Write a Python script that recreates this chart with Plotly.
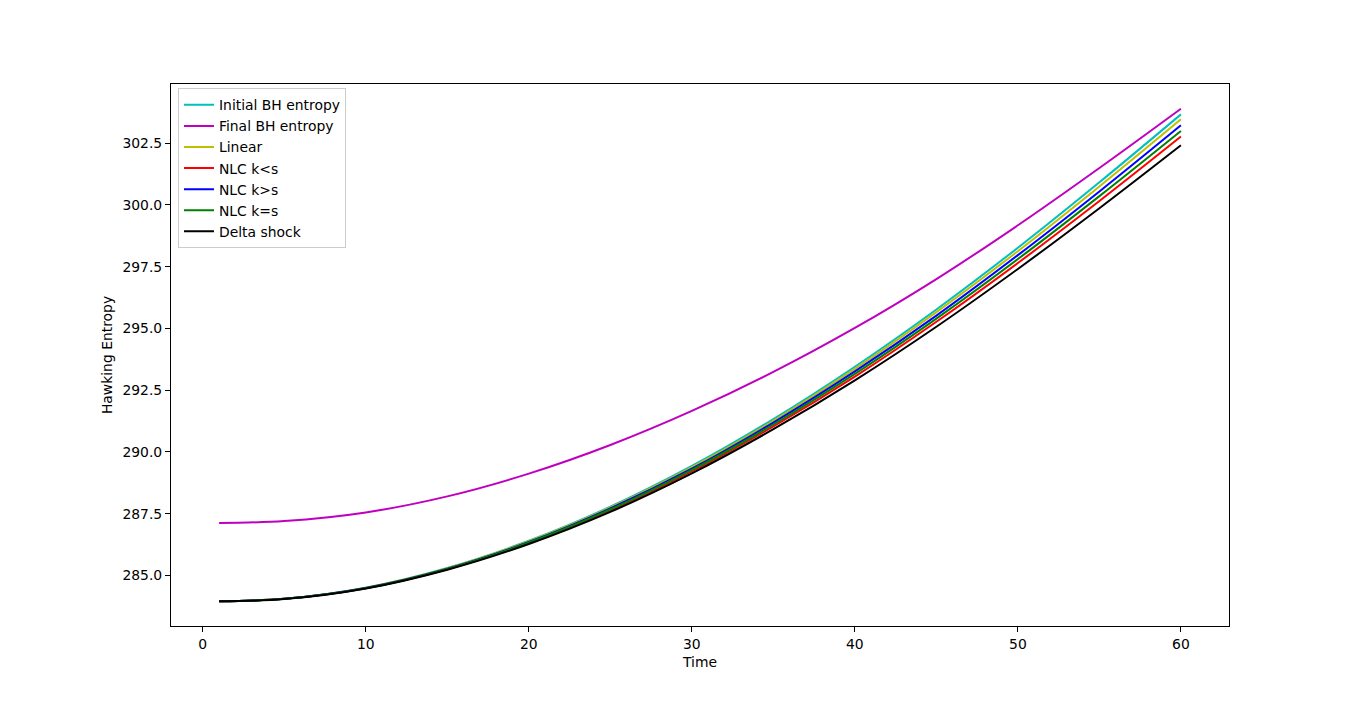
import plotly.graph_objects as go

time = [1, 5, 10, 15, 20, 25, 30, 35, 40, 45, 50, 55, 60]

initial_bh = [283.95, 284.05, 284.50, 285.30, 286.40, 287.78, 289.43, 291.33, 293.45, 295.77, 298.27, 300.92, 303.67]
final_bh = [287.12, 287.20, 287.55, 288.20, 289.12, 290.28, 291.66, 293.24, 295.02, 297.00, 299.18, 301.50, 303.90]
linear = [283.95, 284.05, 284.50, 285.29, 286.38, 287.75, 289.38, 291.26, 293.36, 295.66, 298.13, 300.75, 303.47]
nlc_k_lt_s = [283.95, 284.05, 284.48, 285.25, 286.31, 287.63, 289.21, 291.03, 293.05, 295.27, 297.65, 300.16, 302.77]
nlc_k_gt_s = [283.95, 284.05, 284.49, 285.27, 286.35, 287.71, 289.32, 291.19, 293.26, 295.52, 297.97, 300.55, 303.23]
nlc_k_eq_s = [283.95, 284.05, 284.48, 285.26, 286.33, 287.67, 289.27, 291.11, 293.16, 295.40, 297.81, 300.36, 303.00]
delta_shock = [283.95, 284.04, 284.47, 285.23, 286.27, 287.57, 289.13, 290.92, 292.90, 295.07, 297.41, 299.87, 302.42]

series = [
    ("Initial BH entropy", initial_bh, "#00bfbf"),
    ("Final BH entropy", final_bh, "#bf00bf"),
    ("Linear", linear, "#bfbf00"),
    ("NLC k<s", nlc_k_lt_s, "#ff0000"),
    ("NLC k>s", nlc_k_gt_s, "#0000ff"),
    ("NLC k=s", nlc_k_eq_s, "#008000"),
    ("Delta shock", delta_shock, "#000000"),
]

fig = go.Figure()
for i, (name, vals, color) in enumerate(series):
    fig.add_trace(go.Scatter(
        x=time, y=vals, mode="lines", name=name, legendgroup=f"g{i}",
        line=dict(color=color, width=2, shape="spline", smoothing=1.0),
    ))

font = dict(family="DejaVu Sans", size=13.9, color="black")
fig.update_layout(
    width=1366, height=703,
    margin=dict(l=163, r=145, t=76, b=85),
    paper_bgcolor="white", plot_bgcolor="white",
    font=font,
    showlegend=True,
    legend=dict(
        x=0.0066, y=0.992, xanchor="left", yanchor="top",
        bgcolor="rgba(255,255,255,0.8)", bordercolor="#cccccc", borderwidth=1,
        font=font,
        tracegroupgap=0, itemwidth=30,
    ),
)
fig.update_xaxes(
    range=[-1.95, 62.95], tickmode="array", tickvals=[0, 10, 20, 30, 40, 50, 60],
    showgrid=False, zeroline=False, showline=True, linecolor="black", linewidth=1,
    mirror=True, ticks="outside", ticklen=5, tickcolor="black",
    title=dict(text="Time", font=font, standoff=6),
)
fig.update_yaxes(
    range=[282.95, 304.9], tickmode="array",
    tickvals=[285.0, 287.5, 290.0, 292.5, 295.0, 297.5, 300.0, 302.5],
    tickformat=".1f",
    showgrid=False, zeroline=False, showline=True, linecolor="black", linewidth=1,
    mirror=True, ticks="outside", ticklen=5, tickcolor="black",
    title=dict(text="Hawking Entropy", font=font, standoff=6),
)

fig.write_html("out.html")
